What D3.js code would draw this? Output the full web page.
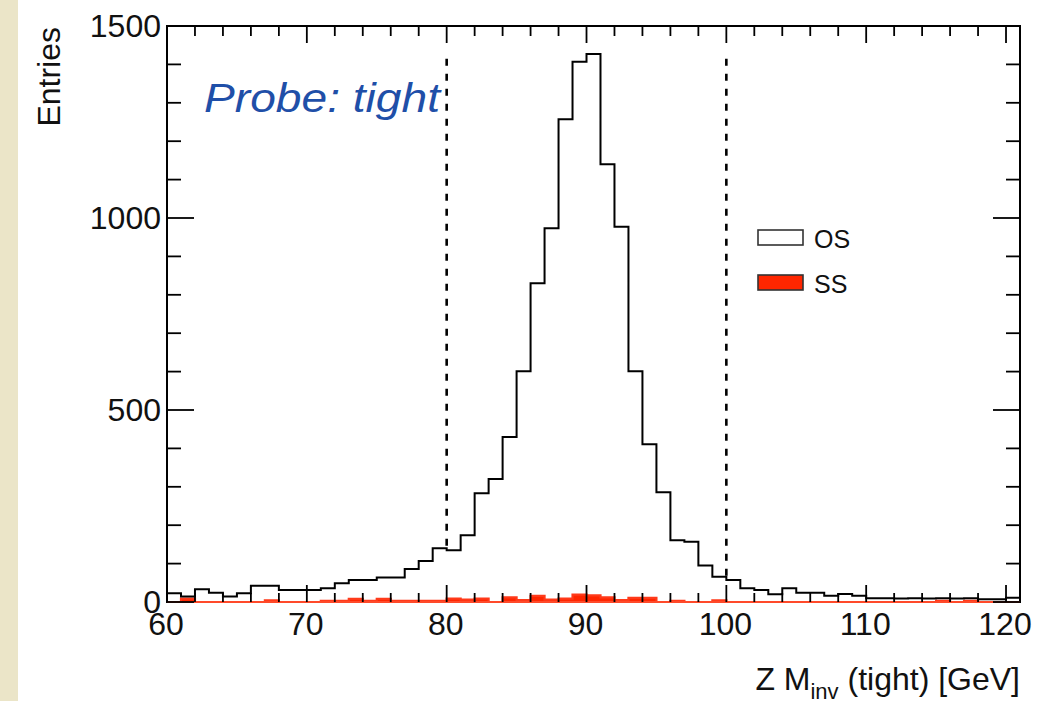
<!DOCTYPE html>
<html>
<head>
<meta charset="utf-8">
<script src="https://cdn.jsdelivr.net/npm/d3@7"></script>
<style>
  html, body { margin: 0; padding: 0; background: #ffffff; }
  svg { display: block; }
  text { font-family: "Liberation Sans", Arial, Helvetica, sans-serif; }
</style>
</head>
<body>
<svg id="chart" width="1048" height="701"></svg>
<script>
// ---------------- data ----------------
const binLowEdges = [60,61,62,63,64,65,66,67,68,69,70,71,72,73,74,75,76,77,78,79,
  80,81,82,83,84,85,86,87,88,89,90,91,92,93,94,95,96,97,98,99,
  100,101,102,103,104,105,106,107,108,109,110,111,112,113,114,115,116,117,118,119,120];
const binWidth = 1;
const osCounts = [23,14,33,24,14,23,42,42,31,31,31,36,49,57,57,64,64,86,107,140,
  135,174,283,320,430,601,830,973,1257,1407,1427,1140,977,601,411,286,161,157,95,66,
  57,36,31,20,36,24,24,16,21,16,10,10,9,10,9,10,9,10,7,7,11];
const ssCounts = [0,9,0,0,0,0,0,4,0,0,0,3,3,8,3,8,3,3,3,3,
  9,6,9,0,12,5,16,6,9,19,17,12,5,11,11,0,3,0,0,4,
  0,0,0,0,0,0,0,0,0,0,0,0,0,0,0,3,0,3,0,0,0];
const xDomain = [60, 121];
const yDomain = [0, 1500];
const xMajorTicks = [60,70,80,90,100,110,120];
const xMinorTicks = [62,64,66,68,72,74,76,78,82,84,86,88,92,94,96,98,102,104,106,108,112,114,116,118];
const yMajorTicks = [0,500,1000,1500];
const yMinorTicks = [100,200,300,400,600,700,800,900,1100,1200,1300,1400];
const cutLines = [80, 100];
const cutLineTop = 1415;
const legendLabels = ["OS", "SS"];
const xTitleMain = "Z M", xTitleSub = "inv", xTitleRest = " (tight) [GeV]";
const yTitle = "Entries";
const probeLabel = "Probe: tight";

// ---------------- layout ----------------
const svg = d3.select("#chart");
const L = 167, R = 1020, T = 26, B = 602;
const x = d3.scaleLinear().domain(xDomain).range([L, R]);
const y = d3.scaleLinear().domain(yDomain).range([B, T]);

// background strip
svg.append("rect").attr("x", 0).attr("y", 0).attr("width", 1048).attr("height", 701).attr("fill", "#ffffff");
svg.append("rect").attr("x", 0).attr("y", 0).attr("width", 18).attr("height", 701).attr("fill", "#ebe5c8");

// step path builder
function stepPoints(counts) {
  const pts = [];
  counts.forEach((c, i) => {
    const x0 = binLowEdges[i], x1 = binLowEdges[i] + binWidth;
    pts.push([x(x0), y(c)]);
    pts.push([x(x1), y(c)]);
  });
  return pts;
}
const line = d3.line();

// frame bottom (black) under histograms
svg.append("line").attr("x1", L).attr("x2", R).attr("y1", B).attr("y2", B)
  .attr("stroke", "#000").attr("stroke-width", 2);

// SS histogram: filled red
const ssArea = d3.area().x(d => d[0]).y0(y(0)).y1(d => d[1]);
const ssPts = stepPoints(ssCounts);
svg.append("path").attr("d", ssArea(ssPts)).attr("fill", "#ff2600").attr("stroke", "none");
svg.append("path").attr("d", line(ssPts)).attr("fill", "none")
  .attr("stroke", "#ff3a1a").attr("stroke-width", 2.2);

// OS histogram: outline
const osPts = stepPoints(osCounts);
svg.append("path").attr("d", line(osPts)).attr("fill", "none")
  .attr("stroke", "#000").attr("stroke-width", 2).attr("stroke-linejoin", "miter");

// cut lines
cutLines.forEach(v => {
  const idx = binLowEdges.indexOf(v);
  const bottomVal = Math.max(osCounts[idx], osCounts[idx - 1]);
  svg.append("line")
    .attr("x1", x(v)).attr("x2", x(v))
    .attr("y1", y(cutLineTop)).attr("y2", y(bottomVal))
    .attr("stroke", "#000").attr("stroke-width", 2.6)
    .attr("stroke-dasharray", "7,8");
});

// frame
svg.append("rect").attr("x", L).attr("y", T).attr("width", R - L).attr("height", B - T)
  .attr("fill", "none").attr("stroke", "#000").attr("stroke-width", 2);
// red baseline over frame bottom
svg.append("line").attr("x1", L).attr("x2", R).attr("y1", B).attr("y2", B)
  .attr("stroke", "#ff4a2a").attr("stroke-width", 1.8);

// ticks
const tickG = svg.append("g").attr("stroke", "#000").attr("stroke-width", 1.8);
xMajorTicks.forEach(v => {
  tickG.append("line").attr("x1", x(v)).attr("x2", x(v)).attr("y1", B).attr("y2", B - 17);
  tickG.append("line").attr("x1", x(v)).attr("x2", x(v)).attr("y1", T).attr("y2", T + 17);
});
xMinorTicks.forEach(v => {
  tickG.append("line").attr("x1", x(v)).attr("x2", x(v)).attr("y1", B).attr("y2", B - 9);
  tickG.append("line").attr("x1", x(v)).attr("x2", x(v)).attr("y1", T).attr("y2", T + 10);
});
yMajorTicks.forEach(v => {
  tickG.append("line").attr("x1", L).attr("x2", L + 27).attr("y1", y(v)).attr("y2", y(v));
  tickG.append("line").attr("x1", R).attr("x2", R - 27).attr("y1", y(v)).attr("y2", y(v));
});
yMinorTicks.forEach(v => {
  tickG.append("line").attr("x1", L).attr("x2", L + 14).attr("y1", y(v)).attr("y2", y(v));
  tickG.append("line").attr("x1", R).attr("x2", R - 14).attr("y1", y(v)).attr("y2", y(v));
});

// tick labels
svg.append("g").selectAll("text").data(xMajorTicks).join("text")
  .attr("x", d => x(d) - 1).attr("y", 635)
  .attr("text-anchor", "middle").attr("font-size", 32).attr("fill", "#111")
  .text(d => d);
svg.append("g").selectAll("text").data(yMajorTicks).join("text")
  .attr("x", 161).attr("y", d => y(d) + 11)
  .attr("text-anchor", "end").attr("font-size", 32).attr("fill", "#111")
  .text(d => d);

// axis titles
svg.append("text")
  .attr("transform", `translate(60,${T + 1}) rotate(-90)`)
  .attr("text-anchor", "end").attr("font-size", 32).attr("fill", "#111")
  .text(yTitle);

const xt = svg.append("text").attr("x", R).attr("y", 690)
  .attr("text-anchor", "end").attr("font-size", 32).attr("fill", "#111");
xt.append("tspan").text(xTitleMain);
xt.append("tspan").attr("dy", 9).attr("font-size", 22).text(xTitleSub);
xt.append("tspan").attr("dy", -9).text(xTitleRest);

// probe label
svg.append("text").attr("x", 204).attr("y", 112)
  .attr("font-family", "'DejaVu Sans', sans-serif").attr("font-style", "italic")
  .attr("font-size", 41).attr("fill", "#1f4fa8")
  .attr("textLength", 236).attr("lengthAdjust", "spacingAndGlyphs")
  .text(probeLabel);

// legend
const legY = [230, 275];
const legFill = ["#ffffff", "#ff2600"];
legendLabels.forEach((lab, i) => {
  svg.append("rect").attr("x", 758).attr("y", legY[i]).attr("width", 45).attr("height", 15)
    .attr("fill", legFill[i]).attr("stroke", "#333").attr("stroke-width", 1.6);
  svg.append("text").attr("x", 814).attr("y", legY[i] + 18)
    .attr("font-size", 25).attr("fill", "#111").text(lab);
});
</script>
</body>
</html>
